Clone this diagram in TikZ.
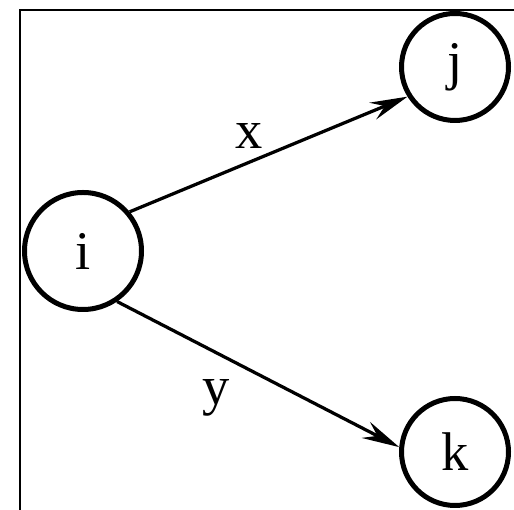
\documentclass[tikz,border=0pt]{standalone}
\usepackage{fontspec}
\setmainfont{Liberation Serif}
\usetikzlibrary{arrows.meta}

\begin{document}
\begin{tikzpicture}[
	font=\fontsize{31}{36}\selectfont,
	vertex/.style={draw, circle, line width=0.1cm, inner sep=0pt, minimum size=2.14cm},
	arr/.style={-{Stealth[length=0.75cm, width=0.36cm, inset=0.26cm]}, line width=0.065cm},
	lab/.style={inner sep=0pt}
]
\useasboundingbox (0,0) rectangle (10.28,10.2);

% 边框
\coordinate (FB) at (0.40,0);
\coordinate (FC) at (0.40,10.0);
\coordinate (FR) at (10.28,10.0);
\draw[line width=0.05cm] (FB) -- (FC) -- (FR);

% 结点
\node[vertex, minimum size=2.34cm] (I) at (1.66,5.18) {i};
\node[vertex] (J) at (9.10,8.86) {j};
\node[vertex] (K) at (9.10,1.16) {k};

% 箭头
\draw[arr] (I.40) -- (J.212) node[lab, pos=0.43, above=7pt] {x};
\draw[arr] (I.-56) -- (K.175) node[lab, pos=0.35, below=14.5pt] {y};
\end{tikzpicture}
\end{document}
